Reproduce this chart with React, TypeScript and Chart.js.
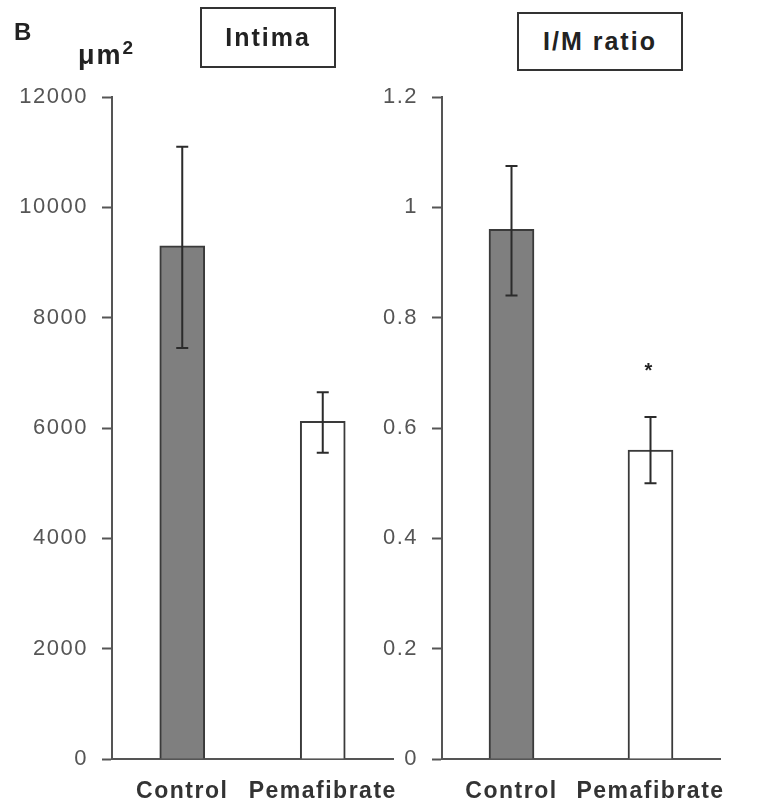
import React, { useEffect, useRef } from "react";
import { Chart, registerables } from "chart.js";
Chart.register(...registerables);

const categories = ["Control", "Pemafibrate"];
const intimaMeans = [9300, 6120];
const intimaLow = [7450, 5550];
const intimaHigh = [11100, 6650];
const ratioMeans = [0.96, 0.56];
const ratioLow = [0.84, 0.5];
const ratioHigh = [1.075, 0.62];
const ratioMarks = ["", "*"];
const ratioMarkValues = [0, 0.71];
const barColors = ["#7f7f7f", "#ffffff"];

const FONT = "'Liberation Sans', Arial, Helvetica, sans-serif";

const spacingPlugin = {
  id: "spacing",
  beforeLayout(chart: any) {
    chart.ctx.letterSpacing = "1.5px";
  },
  beforeDraw(chart: any) {
    chart.ctx.letterSpacing = "1.5px";
  },
};

const errorBarPlugin = {
  id: "errorBars",
  afterDatasetsDraw(chart: any, _args: any, opts: any) {
    const ctx = chart.ctx;
    const meta = chart.getDatasetMeta(0);
    const y = chart.scales.y;
    ctx.save();
    ctx.strokeStyle = "#2b2b2b";
    ctx.lineWidth = 2;
    meta.data.forEach((bar: any, i: number) => {
      const x = bar.x;
      const yl = y.getPixelForValue(opts.low[i]);
      const yh = y.getPixelForValue(opts.high[i]);
      ctx.beginPath();
      ctx.moveTo(x, yl);
      ctx.lineTo(x, yh);
      ctx.moveTo(x - 6, yl);
      ctx.lineTo(x + 6, yl);
      ctx.moveTo(x - 6, yh);
      ctx.lineTo(x + 6, yh);
      ctx.stroke();
      if (opts.marks && opts.marks[i]) {
        ctx.fillStyle = "#222";
        ctx.font = `bold 20px ${FONT}`;
        ctx.textAlign = "center";
        ctx.textBaseline = "middle";
        ctx.letterSpacing = "0px";
        ctx.fillText(opts.marks[i], x - 2, y.getPixelForValue(opts.markValues[i]) + 4);
      }
    });
    ctx.restore();
  },
};

function makeConfig(
  means: number[],
  low: number[],
  high: number[],
  max: number,
  step: number,
  yWidth: number,
  padRight: number,
  tickPad: number,
  marks?: string[],
  markValues?: number[]
): any {
  return {
    type: "bar",
    data: {
      labels: categories,
      datasets: [
        {
          data: means,
          backgroundColor: barColors,
          borderColor: "#3a3a3a",
          borderWidth: 2,
          barThickness: 45,
        },
      ],
    },
    plugins: [spacingPlugin, errorBarPlugin],
    options: {
      responsive: false,
      animation: false,
      devicePixelRatio: 1,
      layout: { padding: { top: 97, right: padRight, bottom: 0, left: 0 } },
      plugins: {
        legend: { display: false },
        tooltip: { enabled: false },
        title: { display: false },
        errorBars: { low, high, marks, markValues },
      },
      scales: {
        x: {
          grid: { display: false, drawTicks: false },
          border: { display: true, color: "#555", width: 2 },
          ticks: {
            padding: 19,
            color: "#333",
            autoSkip: false,
            maxRotation: 0,
            minRotation: 0,
            font: { family: FONT, size: 23, weight: "bold" },
          },
          afterFit(scale: any) {
            scale.height = 53;
            scale.paddingLeft = 0;
            scale.paddingRight = 0;
          },
        },
        y: {
          min: 0,
          max,
          grid: {
            drawOnChartArea: false,
            drawTicks: true,
            tickLength: 10,
            tickColor: "#555",
            tickWidth: 2,
          },
          border: { display: true, color: "#555", width: 2 },
          ticks: {
            stepSize: step,
            padding: tickPad,
            color: "#555",
            font: { family: FONT, size: 22 },
            callback: (v: number) => String(Math.round(v * 10) / 10),
          },
          afterFit(scale: any) {
            scale.width = yWidth;
            scale.paddingTop = 0;
            scale.paddingBottom = 0;
          },
        },
      },
    },
  };
}

function ChartCanvas(props: { config: any; left: number; width: number }) {
  const ref = useRef<HTMLCanvasElement>(null);
  useEffect(() => {
    if (!ref.current) return;
    const chart = new Chart(ref.current, props.config);
    return () => chart.destroy();
  }, []);
  return (
    <canvas
      ref={ref}
      width={props.width}
      height={812}
      style={{ position: "absolute", left: props.left, top: 0, width: props.width, height: 812 }}
    />
  );
}

const boxStyle: React.CSSProperties = {
  position: "absolute",
  border: "2px solid #333",
  boxSizing: "border-box",
  display: "flex",
  alignItems: "center",
  justifyContent: "center",
  fontFamily: FONT,
  fontWeight: "bold",
  fontSize: 25,
  letterSpacing: "2px",
  color: "#222",
  background: "#fff",
};

export default function App() {
  const leftCfg = makeConfig(intimaMeans, intimaLow, intimaHigh, 12000, 2000, 112, 5, 14);
  const rightCfg = makeConfig(ratioMeans, ratioLow, ratioHigh, 1.2, 0.2, 62, 39, 14, ratioMarks, ratioMarkValues);
  return (
    <div style={{ position: "fixed", left: 0, top: 0, width: 759, height: 812, background: "#fff", overflow: "hidden" }}>
      <ChartCanvas config={leftCfg} left={0} width={398} />
      <ChartCanvas config={rightCfg} left={380} width={379} />
      <div style={{ position: "absolute", left: 14, top: 18, fontFamily: FONT, fontWeight: "bold", fontSize: 24, color: "#222" }}>B</div>
      <div style={{ position: "absolute", left: 78, top: 40, fontFamily: FONT, fontWeight: "bold", fontSize: 27, letterSpacing: "2px", color: "#222" }}>
        μm<span style={{ fontSize: 19, verticalAlign: "top", position: "relative", top: -3 }}>2</span>
      </div>
      <div style={{ ...boxStyle, left: 200, top: 7, width: 136, height: 61 }}>Intima</div>
      <div style={{ ...boxStyle, left: 517, top: 12, width: 166, height: 59 }}>I/M ratio</div>
    </div>
  );
}
